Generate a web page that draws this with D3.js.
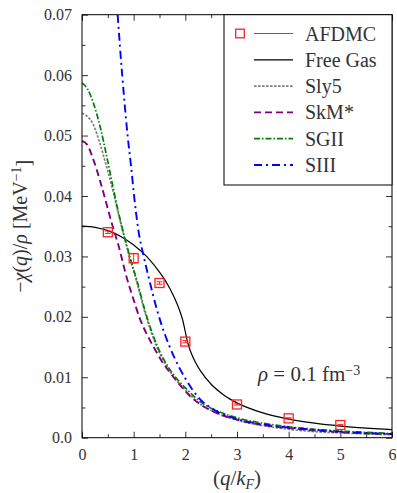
<!DOCTYPE html>
<html>
<head>
<meta charset="utf-8">
<script src="https://cdn.jsdelivr.net/npm/d3@7"></script>
<style>
  body { margin: 0; background: #fff; }
</style>
</head>
<body>
<div class="vis-chart"></div>
<script>
// AFDMC points with error bars
const afdmcQ = [0.5, 1, 1.5, 2, 3, 4, 5];
const afdmcV = [0.0340, 0.0297, 0.0256, 0.0159, 0.0055, 0.0032, 0.0021];
const afdmcErr = [0.0002, 0.0008, 0.0002, 0.0002, 0.0001, 0.0001, 0.0001];

// free Fermi gas
const freeQ = [0, 0.25, 0.5, 0.75, 1, 1.25, 1.5, 1.6, 1.7, 1.8, 1.9, 1.95, 2, 2.05, 2.1, 2.2, 2.3, 2.5, 2.75, 3, 3.5, 4, 4.5, 5, 5.5, 6];
const freeV = [0.0350, 0.03482, 0.03426, 0.03331, 0.0319, 0.03001, 0.0274, 0.02615, 0.02468, 0.02294, 0.0208, 0.01944, 0.0175, 0.0156, 0.0143, 0.01241, 0.01097, 0.00885, 0.00704, 0.00576, 0.0041, 0.00308, 0.0024, 0.00193, 0.00159, 0.00133];

// Skyrme functionals
const sly5Q = [0, 0.1, 0.22, 0.35, 0.48, 0.6, 0.7, 0.83, 0.93, 1.06, 1.22, 1.45, 1.7, 2.03, 2.3, 2.6, 3, 3.5, 4, 4.5, 5, 6];
const sly5V = [0.0537, 0.0532, 0.0518, 0.0486, 0.0447, 0.0408, 0.0372, 0.0328, 0.0296, 0.0258, 0.0207, 0.0150, 0.0110, 0.0076, 0.0055, 0.0041, 0.0029, 0.0020, 0.0014, 0.0010, 0.0008, 0.0005];

const skmQ = [0, 0.1, 0.2, 0.35, 0.48, 0.6, 0.7, 0.865, 1, 1.12, 1.25, 1.38, 1.52, 1.7, 1.96, 2.1, 2.35, 2.6, 3, 3.5, 4, 4.5, 5, 6];
const skmV = [0.0491, 0.0485, 0.0465, 0.0425, 0.0385, 0.0348, 0.0320, 0.0265, 0.0228, 0.0197, 0.0172, 0.0151, 0.0130, 0.0108, 0.0081, 0.0068, 0.0052, 0.0041, 0.0030, 0.0021, 0.0016, 0.0012, 0.0009, 0.0006];

const sgiiQ = [0, 0.1, 0.22, 0.35, 0.48, 0.6, 0.7, 0.83, 0.93, 1.06, 1.22, 1.45, 1.7, 2.03, 2.3, 2.6, 3, 3.5, 4, 4.5, 5, 6];
const sgiiV = [0.0587, 0.0578, 0.0554, 0.0515, 0.0465, 0.0415, 0.0375, 0.0330, 0.0298, 0.0261, 0.0210, 0.0153, 0.0113, 0.0080, 0.0059, 0.0045, 0.0033, 0.0024, 0.0018, 0.0014, 0.0011, 0.0007];

const siiiQ = [0.69, 0.735, 0.78, 0.83, 0.885, 0.95, 1.01, 1.09, 1.2, 1.3, 1.45, 1.6, 1.77, 2, 2.25, 2.6, 3, 3.5, 4, 4.5, 5, 6];
const siiiV = [0.0700, 0.0647, 0.0598, 0.0548, 0.0498, 0.0449, 0.0399, 0.0344, 0.0298, 0.0262, 0.0212, 0.0172, 0.0136, 0.0098, 0.0067, 0.0044, 0.0031, 0.0022, 0.0017, 0.0013, 0.0010, 0.0006];

const xTicks = [0, 1, 2, 3, 4, 5, 6];
const xMinor = [0.5, 1.5, 2.5, 3.5, 4.5, 5.5];
const yTicks = [0, 0.01, 0.02, 0.03, 0.04, 0.05, 0.06, 0.07];
const yTickLabels = ["0.0", "0.01", "0.02", "0.03", "0.04", "0.05", "0.06", "0.07"];
const yMinor = [0.005, 0.015, 0.025, 0.035, 0.045, 0.055, 0.065];

const series = [
    {name: "Free Gas", q: freeQ, v: freeV, color: "#000000", dash: null, w: 1.2},
    {name: "Sly5", q: sly5Q, v: sly5V, color: "#808080", dash: "2.5,1.5", w: 1.7},
    {name: "SkM*", q: skmQ, v: skmV, color: "#800080", dash: "7,4", w: 1.9},
    {name: "SGII", q: sgiiQ, v: sgiiV, color: "#008000", dash: "6,2,1.5,2", w: 1.7},
    {name: "SIII", q: siiiQ, v: siiiV, color: "#0000ff", dash: "8,4,2,4", w: 1.9}
];

const FONT = "'Liberation Serif'";
const TXT = '#333';
const W = 397, H = 493;
const margin = {top: 14.7, right: 5, bottom: 55.3, left: 82};
const width = W - margin.left - margin.right;
const height = H - margin.top - margin.bottom;

const svg = d3.select('.vis-chart').append('svg')
    .attr('width', W)
    .attr('height', H);
const g = svg.append('g')
    .attr('transform', 'translate(' + margin.left + ',' + margin.top + ')');

const x = d3.scaleLinear().domain([0, 6]).range([0, width]);
const y = d3.scaleLinear().domain([0, 0.07]).range([height, 0]);

g.append('clipPath').attr('id', 'plotclip')
  .append('rect').attr('width', width).attr('height', height);

// axes, ticks pointing inwards
const tickCol = '#333';
function styleAxis(sel) {
    sel.attr('font-family', null);
    sel.select('.domain').remove();
    sel.selectAll('.tick line').attr('stroke', tickCol);
    sel.selectAll('.tick text').style('font-family', FONT).attr('fill', TXT);
}
g.append('g').attr('transform', 'translate(0,' + height + ')')
    .call(d3.axisBottom(x).tickValues(xTicks).tickFormat(d3.format('d')).tickSizeInner(-6).tickSizeOuter(0).tickPadding(11))
    .call(styleAxis)
    .selectAll('text').style('font-size', '16px');
g.append('g').attr('transform', 'translate(0,' + height + ')')
    .call(d3.axisBottom(x).tickValues(xMinor).tickFormat('').tickSizeInner(-3.5).tickSizeOuter(0))
    .call(styleAxis);
g.append('g')
    .call(d3.axisTop(x).tickValues(xTicks).tickFormat('').tickSizeInner(-6).tickSizeOuter(0))
    .call(styleAxis);
g.append('g')
    .call(d3.axisTop(x).tickValues(xMinor).tickFormat('').tickSizeInner(-3.5).tickSizeOuter(0))
    .call(styleAxis);

g.append('g')
    .call(d3.axisLeft(y).tickValues(yTicks).tickFormat((d, i) => yTickLabels[i]).tickSizeInner(-6).tickSizeOuter(0).tickPadding(10))
    .call(styleAxis)
    .selectAll('text').style('font-size', '16px');
g.append('g')
    .call(d3.axisLeft(y).tickValues(yMinor).tickFormat('').tickSizeInner(-3.5).tickSizeOuter(0))
    .call(styleAxis);
g.append('g').attr('transform', 'translate(' + width + ',0)')
    .call(d3.axisRight(y).tickValues(yTicks).tickFormat('').tickSizeInner(-6).tickSizeOuter(0))
    .call(styleAxis);
g.append('g').attr('transform', 'translate(' + width + ',0)')
    .call(d3.axisRight(y).tickValues(yMinor).tickFormat('').tickSizeInner(-3.5).tickSizeOuter(0))
    .call(styleAxis);

// curves
const line = d3.line()
    .x(d => x(d[0]))
    .y(d => y(d[1]))
    .curve(d3.curveMonotoneX);

const curves = g.append('g').attr('clip-path', 'url(#plotclip)');
series.forEach(s => {
    curves.append('path')
        .datum(s.q.map((q, i) => [q, s.v[i]]))
        .attr('d', line)
        .attr('fill', 'none')
        .attr('stroke', s.color)
        .attr('stroke-width', s.w)
        .attr('stroke-dasharray', s.dash);
});

// AFDMC markers
const pts = afdmcQ.map((q, i) => ({q: q, v: afdmcV[i], e: afdmcErr[i]}));
const red = '#ff2020';
const sq = 9;
g.selectAll('.err').data(pts).enter().append('path')
    .attr('class', 'err')
    .attr('d', d => {
        const cx = x(d.q), y0 = y(d.v - d.e), y1 = y(d.v + d.e);
        return 'M' + cx + ',' + y0 + 'V' + y1 +
            'M' + (cx - 3) + ',' + y0 + 'H' + (cx + 3) +
            'M' + (cx - 3) + ',' + y1 + 'H' + (cx + 3);
    })
    .attr('stroke', red).attr('stroke-width', 1).attr('fill', 'none');
g.selectAll('.pt').data(pts).enter().append('rect')
    .attr('class', 'pt')
    .attr('x', d => x(d.q) - sq / 2)
    .attr('y', d => y(d.v) - sq / 2)
    .attr('width', sq).attr('height', sq)
    .attr('fill', 'none')
    .attr('stroke', red)
    .attr('stroke-width', 1.3);

// frame
g.append('rect').attr('width', width).attr('height', height)
    .attr('fill', 'none').attr('stroke', '#000').attr('stroke-width', 1);

// legend
const leg = svg.append('g');
leg.append('rect')
    .attr('x', 224).attr('y', margin.top)
    .attr('width', W - margin.right - 224).attr('height', 185 - margin.top)
    .attr('fill', '#fff').attr('stroke', '#000').attr('stroke-width', 1);
const legItems = [{name: 'AFDMC', color: red, dash: null, w: 1.2, marker: true}].concat(series);
legItems.forEach((s, i) => {
    const ly = 33.5 + i * 26.3;
    if (s.marker) {
        leg.append('rect').attr('x', 240 - 4.3).attr('y', ly - 4.3)
            .attr('width', 8.6).attr('height', 8.6)
            .attr('fill', 'none').attr('stroke', red).attr('stroke-width', 1.3);
    }
    leg.append('line')
        .attr('x1', 254).attr('x2', 293).attr('y1', ly).attr('y2', ly)
        .attr('stroke', s.color).attr('stroke-width', s.w)
        .attr('stroke-dasharray', s.dash);
    leg.append('text')
        .attr('x', 305).attr('y', ly).attr('dy', '0.35em')
        .style('font-family', FONT).attr('fill', TXT)
        .style('font-size', '20px')
        .text(s.name);
});

// axis labels
const ylab = svg.append('text')
    .attr('transform', 'translate(27,' + (margin.top + height / 2) + ') rotate(-90)')
    .attr('text-anchor', 'middle')
    .style('font-family', FONT).attr('fill', TXT)
    .style('font-size', '20px');
ylab.append('tspan').text('\u2212');
ylab.append('tspan').attr('font-style', 'italic').text('\u03c7');
ylab.append('tspan').text('(');
ylab.append('tspan').attr('font-style', 'italic').text('q');
ylab.append('tspan').text(')/');
ylab.append('tspan').attr('font-style', 'italic').text('\u03c1');
ylab.append('tspan').text(' [MeV');
ylab.append('tspan').attr('dy', '-0.45em').style('font-size', '14px').text('\u22121');
ylab.append('tspan').attr('dy', '0.45em').text(']');

const xlab = svg.append('text')
    .attr('x', margin.left + width / 2).attr('y', 485)
    .attr('text-anchor', 'middle')
    .style('font-family', FONT).attr('fill', TXT)
    .style('font-size', '21px');
xlab.append('tspan').text('(');
xlab.append('tspan').attr('font-style', 'italic').text('q');
xlab.append('tspan').text('/');
xlab.append('tspan').attr('font-style', 'italic').text('k');
xlab.append('tspan').attr('font-style', 'italic').attr('dy', '0.25em').style('font-size', '14px').text('F');
xlab.append('tspan').attr('dy', '-0.18em').text(')');

// density annotation
const rho = svg.append('text')
    .attr('x', 258).attr('y', 381)
    .style('font-family', FONT).attr('fill', TXT)
    .style('font-size', '21px');
rho.append('tspan').attr('font-style', 'italic').text('\u03c1');
rho.append('tspan').text(' = 0.1 fm');
rho.append('tspan').attr('dy', '-0.45em').style('font-size', '14px').text('\u22123');
</script>
</body>
</html>
